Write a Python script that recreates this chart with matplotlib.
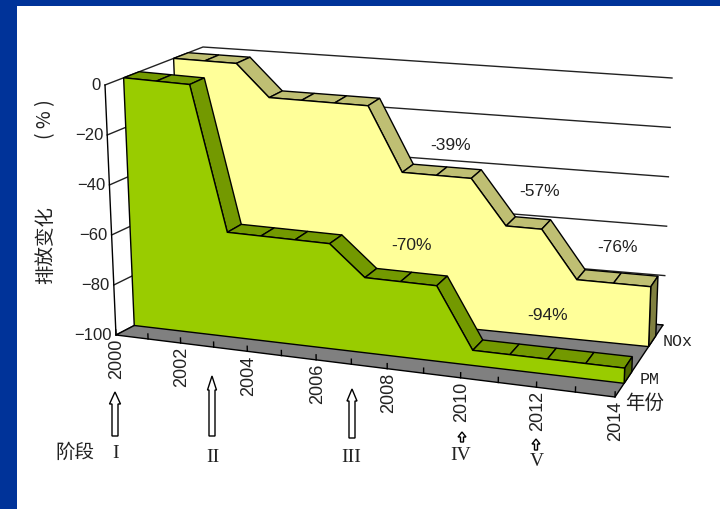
import matplotlib
matplotlib.use("Agg")
import matplotlib.pyplot as plt
from matplotlib.patches import Polygon, Rectangle, FancyArrow
import numpy as np

plt.rcParams['font.family'] = ['Liberation Sans', 'Noto Sans CJK SC']

years = [2000, 2001, 2002, 2003, 2004, 2005, 2006, 2007, 2008, 2009, 2010, 2011, 2012, 2013, 2014]
nox_values = [0, 0, 0, -13, -13, -13, -13, -39, -39, -39, -57, -57, -76, -76, -76]
pm_values = [0, 0, 0, -58, -58, -58, -58, -70, -70, -70, -94, -94, -94, -94, -94]
value_ticks = [0, -20, -40, -60, -80, -100]
year_labels = [2000, 2002, 2004, 2006, 2008, 2010, 2012, 2014]
stage_labels = ['I', 'II', 'III', 'IV', 'V']

# box corners in pixels: (front/back, left/right, top/bottom)
FLT = np.array([105., 85.])
FLB = np.array([116., 335.])
BLT = np.array([203., 47.])
BLB = np.array([212., 285.])
FRT = np.array([624., 142.])
FRB = np.array([615., 397.])
BRT = np.array([672., 78.])
BRB = np.array([663., 325.])
PERSP = 1.12

PM_DEPTH = (0.19, 0.35)
NOX_DEPTH = (0.70, 0.85)

YELLOW = '#FFFF99'
YELLOW_TOP = '#BFBF73'
YELLOW_END = '#808040'
GREEN = '#99CC00'
GREEN_TOP = '#739900'
GREEN_END = '#4D6600'
GREY = '#808080'
BLUE = '#003399'


def proj(year, depth, value):
    u = (year - years[0]) / (years[-1] - years[0])
    u = u / (u + PERSP * (1 - u))
    v = -value / 100.
    front_left = FLT + (FLB - FLT) * v
    front_right = FRT + (FRB - FRT) * v
    back_left = BLT + (BLB - BLT) * v
    back_right = BRT + (BRB - BRT) * v
    front = front_left + (front_right - front_left) * u
    back = back_left + (back_right - back_left) * u
    return tuple(front + (back - front) * depth)


def draw_series(ax, values, depth, face, top, end, z):
    d0, d1 = depth
    outline = [proj(y, d0, val) for y, val in zip(years, values)]
    outline += [proj(years[-1], d0, -100), proj(years[0], d0, -100)]
    # ribbon along the top edge
    for i in range(len(years) - 1):
        quad = [proj(years[i], d0, values[i]), proj(years[i + 1], d0, values[i + 1]),
                proj(years[i + 1], d1, values[i + 1]), proj(years[i], d1, values[i])]
        ax.add_patch(Polygon(quad, facecolor=top, edgecolor='black', lw=1, zorder=z))
    # end face on the right
    quad = [proj(years[-1], d0, values[-1]), proj(years[-1], d1, values[-1]),
            proj(years[-1], d1, -100), proj(years[-1], d0, -100)]
    ax.add_patch(Polygon(quad, facecolor=end, edgecolor='black', lw=1, zorder=z))
    ax.add_patch(Polygon(outline, facecolor=face, edgecolor='black', lw=1, zorder=z))


fig = plt.figure(figsize=(7.2, 5.09), dpi=100)
ax = fig.add_axes([0, 0, 1, 1])
ax.set_xlim(0, 720)
ax.set_ylim(509, 0)
ax.axis('off')

# slide frame
ax.add_patch(Rectangle((0, 0), 720, 6, color=BLUE, lw=0))
ax.add_patch(Rectangle((0, 0), 17, 509, color=BLUE, lw=0))

# walls
for val in value_ticks:
    pts = [proj(years[0], 0, val), proj(years[0], 1, val), proj(years[-1], 1, val)]
    ax.plot(*zip(*pts), color='#222222', lw=1, zorder=1)
    x, y = proj(years[0], 0, val)
    ax.text(x - 4, y, str(val).replace('-', '\u2212'), ha='right', va='center', fontsize=12, color='#222222')
ax.plot(*zip(proj(years[0], 0, 0), proj(years[0], 0, -100)), color='black', lw=1, zorder=1)

# floor
floor = [proj(years[0], 0, -100), proj(years[-1], 0, -100), proj(years[-1], 1, -100), proj(years[0], 1, -100)]
ax.add_patch(Polygon(floor, facecolor=GREY, edgecolor='black', lw=1, zorder=2))
for y in years:
    ax.plot(*zip(proj(y, 0, -100), proj(y, 0, -98)), color='black', lw=1, zorder=3)

draw_series(ax, nox_values, NOX_DEPTH, YELLOW, YELLOW_TOP, YELLOW_END, 4)
draw_series(ax, pm_values, PM_DEPTH, GREEN, GREEN_TOP, GREEN_END, 5)

for y in year_labels:
    tx, ty = proj(y, 0, -100)
    ax.text(tx + 1, ty + 4, str(y), rotation=90, ha='center', va='top', fontsize=13, color='#222222', zorder=6)

# percent labels
for txt, x, y in [('-39%', 451, 145), ('-57%', 540, 192), ('-76%', 617, 248),
                  ('-70%', 411, 245), ('-94%', 548, 316)]:
    ax.text(x, y, txt, ha='center', va='center', fontsize=12.5, color='#222222', zorder=6)

# axis titles
cjk = ['Noto Sans CJK SC', 'DejaVu Sans']
ax.text(46, 245, '排放变化', rotation=90, ha='center', va='center', fontsize=14, family=cjk, color='#222222')
ax.text(46, 119, '( % )', rotation=90, ha='center', va='center', fontsize=14, family=cjk, color='#222222')
ax.text(645, 403, '年份', ha='center', va='center', fontsize=14, family=cjk, color='#222222')
ax.text(75, 452, '阶段', ha='center', va='center', fontsize=14, family=cjk, color='#222222')
ax.text(663, 342, 'NOx', ha='left', va='center', fontsize=12, family='Liberation Mono', color='#222222')
ax.text(640, 379, 'PM', ha='left', va='center', fontsize=12, family='Liberation Mono', color='#222222')

# stage arrows and labels
for x, tip, bottom, width, head_w, head_l in [(115, 392, 436, 6, 11, 12), (212, 376, 436, 6, 9, 14),
                                              (352, 389, 438, 6, 10, 12), (462, 432, 442, 3, 8, 5),
                                              (536, 439, 450, 3, 8, 5)]:
    ax.add_patch(FancyArrow(x, bottom, 0, tip - bottom, width=width, head_width=head_w, head_length=head_l,
                            length_includes_head=True, facecolor='white', edgecolor='black', lw=1))
for txt, x, y in zip(stage_labels, [116, 213, 351, 461, 537], [453, 457, 457, 456, 461]):
    ax.text(x, y, txt, ha='center', va='center', fontsize=14, family='Liberation Serif', color='#222222')

fig.savefig('out.png', dpi=100)
